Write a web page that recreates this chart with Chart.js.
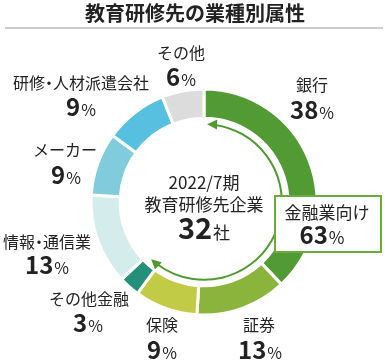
<!DOCTYPE html>
<html><head><meta charset="utf-8">
<script src="https://cdn.jsdelivr.net/npm/chart.js@4.4.1/dist/chart.umd.min.js"></script>
<style>html,body{margin:0;padding:0;background:#fff;}#wrap{width:385px;height:361px;position:relative;}</style>
</head><body><div id="wrap"><canvas id="c" width="385" height="361"></canvas></div>
<script>
// ---- data ----
const chartTitle = '教育研修先の業種別属性';
const categories = ['銀行','証券','保険','その他金融','情報・通信業','メーカー','研修・人材派遣会社','その他'];
const shares = [38,13,9,3,13,9,9,6];
const financialCount = 4;          // 銀行・証券・保険・その他金融
const financialLabel = '金融業向け';
const financialShare = 63;
const centerLines = ['2022/7期','教育研修先企業'];
const companyCount = 32;
const companyUnit = '社';

// ---- styles / layout ----
const sliceColors = ['#529a33','#8ab43b','#c1cb46','#24907a','#d5ecec','#80cbdc','#57c0e0','#dcdcdc'];
const namePos = [[312,85],[259,325],[162,325],[89,299],[47,242],[65,150],[81,83],[181,53]];
const valuePos = [[312,110],[260,350],[162,350],[88,323],[47,265],[66,175],[81,107],[181,77]];
const JP = '"Noto Sans CJK JP","Noto Sans",sans-serif';
const green = '#4f9a2c';

function drawPct(ctx, num, unit, x, y, numFont, unitFont){
  ctx.font = numFont; const w1 = ctx.measureText(String(num)).width;
  ctx.font = unitFont; const w2 = ctx.measureText(unit).width;
  const x0 = x - (w1 + w2 + 1) / 2;
  ctx.textAlign = 'left'; ctx.textBaseline = 'alphabetic';
  ctx.font = numFont; ctx.fillText(String(num), x0, y);
  ctx.font = unitFont; ctx.fillText(unit, x0 + w1 + 1, y);
}
// centred text with a proportional (narrow) middle dot
function drawLabel(ctx, text, x, y, size){
  ctx.font = size + 'px ' + JP;
  ctx.textBaseline = 'middle';
  const parts = text.split('・');
  const dotW = size * 0.5;
  const widths = parts.map(p => ctx.measureText(p).width);
  const total = widths.reduce((a,b)=>a+b,0) + dotW * (parts.length - 1);
  let cx = x - total / 2;
  parts.forEach((p, i) => {
    ctx.textAlign = 'left';
    ctx.fillText(p, cx, y);
    cx += widths[i];
    if (i < parts.length - 1){
      ctx.textAlign = 'center';
      ctx.fillText('・', cx + dotW / 2, y);
      cx += dotW;
    }
  });
}

const overlay = {
  id: 'overlay',
  afterDatasetsDraw(chart){
    const ctx = chart.ctx;
    const meta = chart.getDatasetMeta(0);
    const first = meta.data[0], last = meta.data[financialCount-1];
    const cx = first.x, cy = first.y;
    ctx.save();
    // title + rule
    ctx.fillStyle = '#222';
    ctx.textAlign = 'center'; ctx.textBaseline = 'middle';
    ctx.font = 'bold 20px ' + JP;
    ctx.fillText(chartTitle, 195, 13);
    ctx.fillStyle = '#cccccc';
    ctx.fillRect(5, 27, 378, 2);

    // arrow arc
    const R = first.innerRadius - 6;
    const s = first.startAngle + 0.04, e = last.endAngle - 0.07;
    const L = 10, W = 5;
    ctx.strokeStyle = green; ctx.fillStyle = green; ctx.lineWidth = 2;
    ctx.beginPath(); ctx.arc(cx, cy, R, s + L/R*0.8, e - L/R*0.8); ctx.stroke();
    function head(theta, dir){
      const tx = cx + R*Math.cos(theta), ty = cy + R*Math.sin(theta);
      const dx = dir * -Math.sin(theta), dy = dir * Math.cos(theta);
      const bx = tx - dx*L, by = ty - dy*L;
      const nx = Math.cos(theta), ny = Math.sin(theta);
      ctx.beginPath(); ctx.moveTo(tx, ty);
      ctx.lineTo(bx + nx*W, by + ny*W); ctx.lineTo(bx - nx*W, by - ny*W);
      ctx.closePath(); ctx.fill();
    }
    head(s, -1); head(e, 1);

    // center text
    ctx.fillStyle = '#222';
    ctx.textAlign = 'center'; ctx.textBaseline = 'middle';
    ctx.font = '17px ' + JP;
    ctx.fillText(centerLines[0], cx, cy - 19);
    ctx.fillText(centerLines[1], cx, cy + 3);
    drawPct(ctx, companyCount, companyUnit, cx, cy + 37, 'bold 29px ' + JP, '17px ' + JP);

    // financial box
    ctx.fillStyle = '#fff';
    ctx.fillRect(274, 195, 108, 58);
    ctx.strokeStyle = '#6aab3e'; ctx.lineWidth = 2;
    ctx.strokeRect(275, 196, 106, 56);
    ctx.fillStyle = '#222';
    ctx.textAlign = 'center'; ctx.textBaseline = 'middle';
    ctx.font = '17px ' + JP;
    ctx.fillText(financialLabel, 327, 213);
    drawPct(ctx, financialShare, '%', 322, 244, 'bold 24px ' + JP, '17px ' + JP);

    // slice labels
    categories.forEach((name, i) => {
      ctx.fillStyle = '#222';
      drawLabel(ctx, name, namePos[i][0], namePos[i][1], 16);
      drawPct(ctx, shares[i], '%', valuePos[i][0], valuePos[i][1] + 9, 'bold 24px ' + JP, '16px ' + JP);
    });
    ctx.restore();
  }
};

new Chart(document.getElementById('c'), {
  type: 'doughnut',
  data: { labels: categories, datasets: [{ data: shares, backgroundColor: sliceColors, borderColor: '#fff', borderWidth: 3 }] },
  options: {
    responsive: false, animation: false, devicePixelRatio: 1,
    radius: 113, cutout: 82,
    layout: { padding: { left: 92, right: 69, top: 90, bottom: 47 } },
    plugins: { legend: { display: false }, tooltip: { enabled: false }, title: { display: false } },
    events: []
  },
  plugins: [overlay]
});
</script></body></html>
